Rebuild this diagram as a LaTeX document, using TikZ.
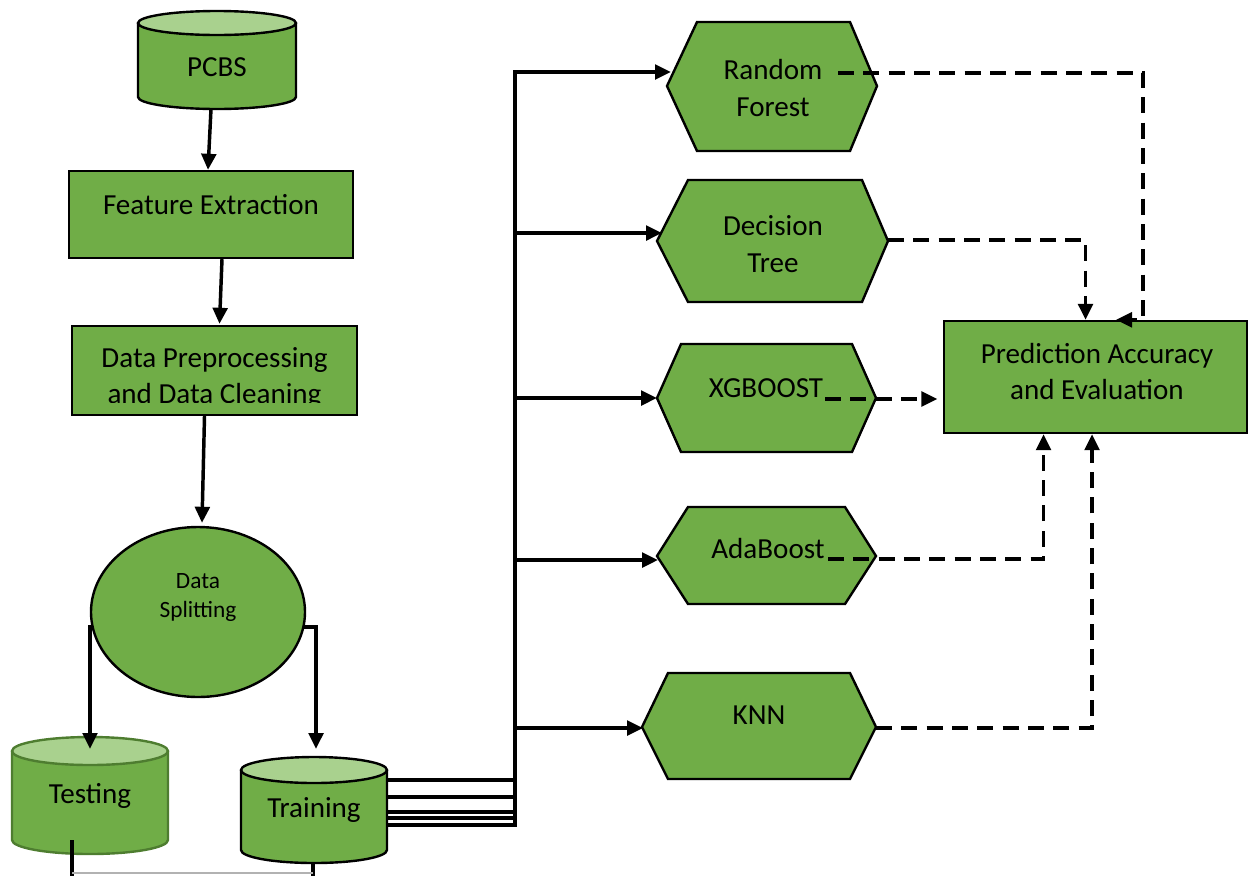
\documentclass[tikz,border=0pt]{standalone}
\usepackage{fontspec}
\setmainfont{Carlito}
\usetikzlibrary{arrows.meta,calc,shapes.geometric}
\definecolor{gfill}{HTML}{70AD47}
\definecolor{gtop}{HTML}{A9D18E}
\definecolor{gdark}{HTML}{4E7D30}
\begin{document}
\begin{tikzpicture}[x=0.75pt,y=-0.75pt,
  box/.style={draw=black,line width=1.8pt,fill=gfill},
  hexs/.style={draw=black,line width=1.8pt,fill=gfill,line join=miter},
  lbl/.style={font=\fontsize{21.8}{27.5}\selectfont,align=center,inner sep=0pt},
  sml/.style={font=\fontsize{17.5}{21.75}\selectfont,align=center,inner sep=0pt},
  tipa/.style={-{Triangle[length=12pt,width=11pt]}},
  sarr/.style={line width=2.6pt,tipa},
  sline/.style={line width=2.6pt},
  darr/.style={line width=2.6pt,dash pattern=on 12pt off 7pt,tipa},
]
\useasboundingbox (0,0) rectangle (1248,875);

% ---- cylinders ----
\draw[line width=1.8pt,fill=gfill] (138,23) -- (138,97) .. controls (138,103.6) and (173.4,109) .. (217,109) .. controls (260.6,109) and (296,103.6) .. (296,97) -- (296,23);
\draw[line width=1.8pt,fill=gtop] (217,23) ellipse [x radius=79, y radius=12];
\node[lbl] (pcbs) at (217,67) {PCBS};
\coordinate (pcbs-b) at (211,109);

\draw[gdark,line width=1.8pt,fill=gfill] (12,751) -- (12,840) .. controls (12,847.7) and (46.9,854) .. (90,854) .. controls (133.1,854) and (168,847.7) .. (168,840) -- (168,751);
\draw[gdark,line width=1.8pt,fill=gtop] (90,751) ellipse [x radius=78, y radius=14];
\node[lbl] (test) at (90,796) {Testing};
\coordinate (test-t) at (90,749);
\coordinate (test-b) at (72,840);

\draw[line width=1.8pt,fill=gfill] (241,770) -- (241,850) .. controls (241,857.2) and (273.7,863) .. (314,863) .. controls (354.3,863) and (387,857.2) .. (387,850) -- (387,770);
\draw[line width=1.8pt,fill=gtop] (314,770) ellipse [x radius=73, y radius=13];
\node[lbl] (train) at (314,810) {Training};
\coordinate (train-t) at (316,749);
\coordinate (train-b) at (313,863);
\coordinate (tr1) at (387,780);
\coordinate (tr2) at (387,797);
\coordinate (tr3) at (387,812);
\coordinate (tr4) at (387,818);
\coordinate (tr5) at (387,825);

% ---- boxes ----
\node[box,minimum width=284*0.75pt,minimum height=87*0.75pt] (fe) at (211,214.5) {};
\node[lbl] at (211,205) {Feature Extraction};

\node[box,minimum width=285*0.75pt,minimum height=89*0.75pt] (dp) at (214.5,370.5) {};
\begin{scope}
\clip (72,326) rectangle (357,402);
\node[lbl] (dpt) at (214.5,378) {Data Preprocessing\\and Data Cleaning};
\end{scope}

\node[box,ellipse,inner sep=0pt,minimum width=214*0.75pt,minimum height=170*0.75pt] (ds) at (198,612) {};
\node[sml] at (198,597.5) {Data\\Splitting};

\node[box,minimum width=303*0.75pt,minimum height=112*0.75pt] (pred) at (1095.5,377) {};
\node[lbl] at (1097,371.5) {Prediction Accuracy\\and Evaluation};

% ---- hexagons ----
\draw[hexs] (667,86) -- (697,22) -- (850,22) -- (877,86) -- (850,151) -- (697,151) -- cycle;
\node[lbl] (rf) at (773,88) {Random\\Forest};
\draw[hexs] (657,241) -- (688,180) -- (862,180) -- (888,241) -- (862,302) -- (688,302) -- cycle;
\node[lbl] (dt) at (773,244) {Decision\\Tree};
\draw[hexs] (657,398) -- (681,344) -- (852,344) -- (876,398) -- (852,452) -- (681,452) -- cycle;
\node[lbl] (xg) at (766,388) {XGBOOST};
\draw[hexs] (657,556) -- (688,507) -- (845,507) -- (876,556) -- (845,604) -- (688,604) -- cycle;
\node[lbl] (ada) at (768,549) {AdaBoost};
\draw[hexs] (642,727) -- (668,673) -- (850,673) -- (876,727) -- (850,779) -- (668,779) -- cycle;
\node[lbl] (knn) at (759,715) {KNN};

\coordinate (rf-in) at (671,72);   \coordinate (rf-out) at (838,73);
\coordinate (dt-in) at (662,233);  \coordinate (dt-out) at (888,240);
\coordinate (xg-in) at (657,398);  \coordinate (xg-out) at (825,399);
\coordinate (ada-in) at (658,560); \coordinate (ada-out) at (828,559);
\coordinate (knn-in) at (643,728); \coordinate (knn-out) at (876,728);

% ---- left flow ----
\draw[sarr] (pcbs-b) -- ($(fe.north)+(-3,0)$);
\draw[sarr] ($(fe.south)+(11,0)$) -- ($(dp.north)+(5,-1)$);
\draw[sarr] ($(dp.south)+(-10,0)$) -- ($(ds.north)+(4,-3)$);
\draw[sarr] ($(ds.west)+(2,15)$) -| (test-t);
\draw[sarr] ($(ds.east)+(-2,15)$) -| (train-t);
\draw[sline] (test-b) -- (72,877);
\draw[sline] (train-b) -- (313,877);
\draw[gray!60,line width=1pt] (72,873) -- (313,873);

% ---- training bus ----
\draw[sarr] (tr5) -- (515,825) |- (rf-in);
\draw[sarr] (tr4) -- (515,818) |- (dt-in);
\draw[sarr] (tr3) -- (515,812) |- (xg-in);
\draw[sarr] (tr2) -- (515,797) |- (ada-in);
\draw[sarr] (tr1) -- (515,780) |- (knn-in);

% ---- dashed to prediction ----
\draw[darr] (rf-out) -| ($(pred.north)+(47.5,0)$) -- ($(pred.north)+(20.5,0)$);
\draw[darr] (dt-out) -| ($(pred.north)+(-10,0)$);
\draw[darr,shorten >=4pt] (xg-out) -- (xg-out -| pred.west);
\draw[darr] (ada-out) -| ($(pred.south)+(-52,0)$);
\draw[darr] (knn-out) -| ($(pred.south)+(-3.5,0)$);
\end{tikzpicture}
\end{document}
